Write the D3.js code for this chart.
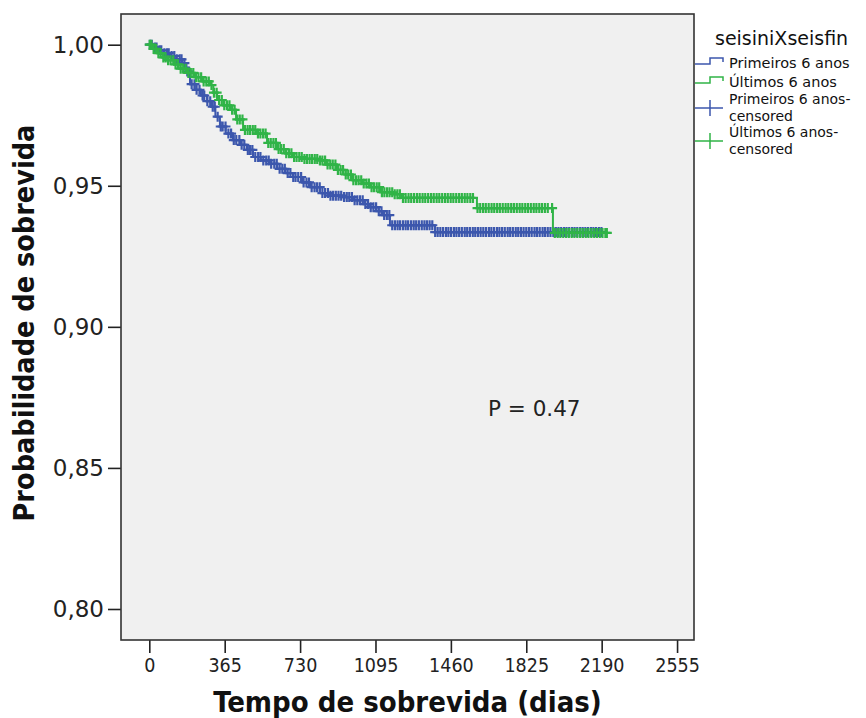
<!DOCTYPE html>
<html>
<head>
<meta charset="utf-8">
<script src="https://cdn.jsdelivr.net/npm/d3@7"></script>
<style>
  html, body { margin: 0; padding: 0; background: #ffffff; }
  svg { display: block; }
</style>
</head>
<body>
<svg id="chart" width="866" height="718"></svg>
<script>
// Kaplan-Meier survival by period of diagnosis (first vs last 6 years)
const groups = ["Primeiros 6 anos", "Últimos 6 anos"];

// Event times (days) and survival after each event, first group
const firstTimes = [0, 20, 45, 70, 100, 130, 160, 180, 197, 220, 250, 280, 300, 320, 342, 370, 405, 440, 473, 502, 540, 584, 620, 660, 695, 740, 778, 826, 870, 940, 986, 1040, 1069, 1110, 1131, 1165, 1383];
const firstSurv  = [1.0, 0.9990, 0.9980, 0.9970, 0.9960, 0.9948, 0.9935, 0.9905, 0.9860, 0.9840, 0.9820, 0.9800, 0.9780, 0.9745, 0.9710, 0.9685, 0.9662, 0.9645, 0.9627, 0.9602, 0.9590, 0.9578, 0.9560, 0.9545, 0.9531, 0.9512, 0.9495, 0.9474, 0.9465, 0.9460, 0.9449, 0.9435, 0.9424, 0.9410, 0.9396, 0.9360, 0.9336];
const firstEnd = 2192;

// Event times (days) and survival after each event, last group
const lastTimes = [0, 15, 40, 65, 90, 120, 150, 183, 220, 260, 294, 310, 328, 360, 391, 420, 454, 520, 570, 620, 660, 695, 740, 826, 860, 908, 950, 986, 1030, 1069, 1117, 1180, 1223, 1586, 1954];
const lastSurv  = [1.0, 0.9985, 0.9970, 0.9955, 0.9945, 0.9930, 0.9915, 0.9900, 0.9885, 0.9870, 0.9857, 0.9830, 0.9804, 0.9785, 0.9769, 0.9735, 0.9698, 0.9685, 0.9652, 0.9630, 0.9615, 0.9602, 0.9595, 0.9590, 0.9575, 0.9556, 0.9540, 0.9520, 0.9508, 0.9495, 0.9477, 0.9470, 0.9457, 0.9421, 0.9333];
const lastEnd = 2217;

// Censoring times (days)
const firstCensored = [3, 12, 26, 35, 49, 58, 73, 86, 94, 108, 121, 133, 147, 156, 170, 184, 192, 205, 219, 229, 243, 258, 266, 281, 295, 307, 317, 331, 346, 355, 369, 383, 396, 409, 421, 436, 447, 460, 477, 488, 499, 513, 527, 538, 552, 566, 578, 590, 605, 617, 631, 644, 656, 670, 683, 697, 708, 721, 735, 747, 761, 773, 786, 800, 812, 825, 838, 851, 865, 877, 890, 903, 916, 929, 943, 956, 968, 981, 994, 1007, 1020, 1033, 1046, 1059, 1072, 1085, 1098, 1111, 1124, 1137, 1150, 1162, 1176, 1189, 1202, 1214, 1228, 1241, 1253, 1267, 1280, 1292, 1305, 1319, 1332, 1344, 1357, 1370, 1384, 1396, 1409, 1422, 1436, 1448, 1461, 1475, 1487, 1500, 1513, 1527, 1539, 1552, 1566, 1578, 1591, 1604, 1617, 1630, 1644, 1656, 1669, 1683, 1695, 1708, 1721, 1735, 1747, 1760, 1774, 1786, 1799, 1812, 1825, 1838, 1851, 1865, 1877, 1890, 1904, 1916, 1929, 1942, 1956, 1968, 1981, 1994, 2008, 2020, 2033, 2047, 2059, 2072, 2086, 2098, 2111, 2124, 2138, 2150, 2163, 2177, 2189];
const lastCensored = [2, 10, 21, 33, 44, 55, 68, 79, 91, 103, 116, 127, 139, 152, 164, 176, 189, 201, 213, 226, 238, 251, 263, 276, 288, 301, 313, 326, 338, 351, 363, 376, 388, 401, 413, 426, 438, 451, 463, 476, 488, 501, 513, 526, 538, 551, 563, 576, 588, 601, 613, 626, 638, 651, 663, 676, 688, 701, 713, 726, 738, 751, 763, 776, 788, 801, 813, 826, 838, 851, 863, 876, 888, 901, 913, 926, 938, 951, 963, 976, 988, 1001, 1013, 1026, 1038, 1051, 1063, 1076, 1088, 1101, 1113, 1126, 1138, 1151, 1163, 1176, 1188, 1201, 1213, 1228, 1241, 1255, 1268, 1282, 1296, 1309, 1323, 1336, 1350, 1364, 1377, 1391, 1404, 1418, 1432, 1445, 1459, 1472, 1486, 1500, 1513, 1527, 1540, 1554, 1567, 1589, 1602, 1616, 1629, 1643, 1657, 1670, 1684, 1697, 1711, 1725, 1738, 1752, 1765, 1779, 1793, 1806, 1820, 1833, 1847, 1861, 1874, 1888, 1901, 1915, 1929, 1950, 1963, 1977, 1990, 2004, 2018, 2031, 2045, 2058, 2072, 2086, 2099, 2113, 2126, 2140, 2154, 2167, 2181, 2194, 2208, 2215];

// Axis ticks
const xTicks = [0, 365, 730, 1095, 1460, 1825, 2190, 2555];
const yTicks = [0.80, 0.85, 0.90, 0.95, 1.00];

const colors = ["#3c57ad", "#30b447"];

const svg = d3.select("#chart");
const plot = { left: 121, top: 14, right: 694, bottom: 640 };

const x = d3.scaleLinear().domain([-137, 2637]).range([plot.left, plot.right]);
const y = d3.scaleLinear().domain([0.78901, 1.01088]).range([plot.bottom, plot.top]);

// Plot background
svg.append("rect")
  .attr("x", plot.left).attr("y", plot.top)
  .attr("width", plot.right - plot.left).attr("height", plot.bottom - plot.top)
  .attr("fill", "#f0f0f0");

// Axes
const fmtComma = d => d3.format(".2f")(d).replace(".", ",");
const yAxis = svg.append("g")
  .attr("transform", `translate(${plot.left},0)`)
  .call(d3.axisLeft(y).tickValues(yTicks).tickFormat(fmtComma).tickSize(13).tickPadding(4));
yAxis.select(".domain").remove();
yAxis.selectAll(".tick line").attr("stroke", "#222").attr("stroke-width", 1.6);
yAxis.selectAll(".tick text")
  .attr("font-family", "'DejaVu Sans', sans-serif").attr("font-size", 23).attr("fill", "#222");

const xAxis = svg.append("g")
  .attr("transform", `translate(0,${plot.bottom})`)
  .call(d3.axisBottom(x).tickValues(xTicks).tickFormat(d3.format("d")).tickSize(13).tickPadding(5));
xAxis.select(".domain").remove();
xAxis.selectAll(".tick line").attr("stroke", "#222").attr("stroke-width", 1.6);
xAxis.selectAll(".tick text")
  .attr("font-family", "'DejaVu Sans Condensed', 'DejaVu Sans', sans-serif").attr("font-size", 19.5).attr("fill", "#222");

// Frame
svg.append("rect")
  .attr("x", plot.left).attr("y", plot.top)
  .attr("width", plot.right - plot.left).attr("height", plot.bottom - plot.top)
  .attr("fill", "none").attr("stroke", "#333").attr("stroke-width", 1.6);

// Axis titles
svg.append("text")
  .attr("x", (plot.left + plot.right) / 2).attr("y", 712)
  .attr("text-anchor", "middle")
  .attr("font-family", "'DejaVu Sans Condensed', 'DejaVu Sans', sans-serif")
  .attr("font-weight", "bold").attr("font-size", 29).attr("fill", "#111")
  .text("Tempo de sobrevida (dias)");

svg.append("text")
  .attr("transform", `translate(34,323) rotate(-90)`)
  .attr("text-anchor", "middle")
  .attr("font-family", "'DejaVu Sans Condensed', 'DejaVu Sans', sans-serif")
  .attr("font-weight", "bold").attr("font-size", 28.5).attr("fill", "#111")
  .text("Probabilidade de sobrevida");

// Survival curves
const series = [
  { times: firstTimes, surv: firstSurv, end: firstEnd, censored: firstCensored, color: colors[0] },
  { times: lastTimes, surv: lastSurv, end: lastEnd, censored: lastCensored, color: colors[1] }
];

const stepLine = d3.line().x(d => x(d[0])).y(d => y(d[1])).curve(d3.curveStepAfter);
const bisect = d3.bisector(d => d).right;
const armW = 5, armH = 5;

series.forEach(s => {
  const pts = s.times.map((t, i) => [t, s.surv[i]]);
  pts.push([s.end, s.surv[s.surv.length - 1]]);
  const g = svg.append("g");
  g.append("path")
    .attr("d", stepLine(pts))
    .attr("fill", "none").attr("stroke", s.color).attr("stroke-width", 2);

  const marks = s.censored.map(t => {
    const i = Math.max(0, bisect(s.times, t) - 1);
    return [t, s.surv[i]];
  });
  g.selectAll("path.cens").data(marks).join("path")
    .attr("class", "cens")
    .attr("d", d => {
      const cx = x(d[0]), cy = y(d[1]);
      return `M${cx - armW},${cy}H${cx + armW}M${cx},${cy - armH}V${cy + armH}`;
    })
    .attr("fill", "none").attr("stroke", s.color).attr("stroke-width", 2.2);
});

// P value
svg.append("text")
  .attr("x", 488).attr("y", 416)
  .attr("font-family", "'DejaVu Sans', sans-serif").attr("font-size", 21.5).attr("fill", "#222")
  .text("P = 0.47");

// Legend
const legend = svg.append("g").attr("font-family", "'DejaVu Sans', sans-serif").attr("fill", "#111");
legend.append("text").attr("x", 715).attr("y", 45).attr("font-size", 19).text("seisiniXseisfin");

const stepRows = [
  { label: groups[0], color: colors[0], y: 64 },
  { label: groups[1], color: colors[1], y: 83 }
];
stepRows.forEach(r => {
  legend.append("path")
    .attr("d", `M695,${r.y}H710V${r.y - 6}H723V${r.y - 2}`)
    .attr("fill", "none").attr("stroke", r.color).attr("stroke-width", 1.5);
  legend.append("text").attr("x", 729).attr("y", r.y + 4).attr("font-size", 14.5).text(r.label);
});

const censRows = [
  { label: groups[0] + "-", color: colors[0], y: 108 },
  { label: groups[1] + "-", color: colors[1], y: 141 }
];
censRows.forEach(r => {
  legend.append("path")
    .attr("d", `M695,${r.y}H723M710,${r.y - 8}V${r.y + 8}`)
    .attr("fill", "none").attr("stroke", r.color).attr("stroke-width", 1.5);
  legend.append("text").attr("x", 729).attr("y", r.y - 4).attr("font-size", 14).text(r.label);
  legend.append("text").attr("x", 729).attr("y", r.y + 13).attr("font-size", 14).text("censored");
});
</script>
</body>
</html>
